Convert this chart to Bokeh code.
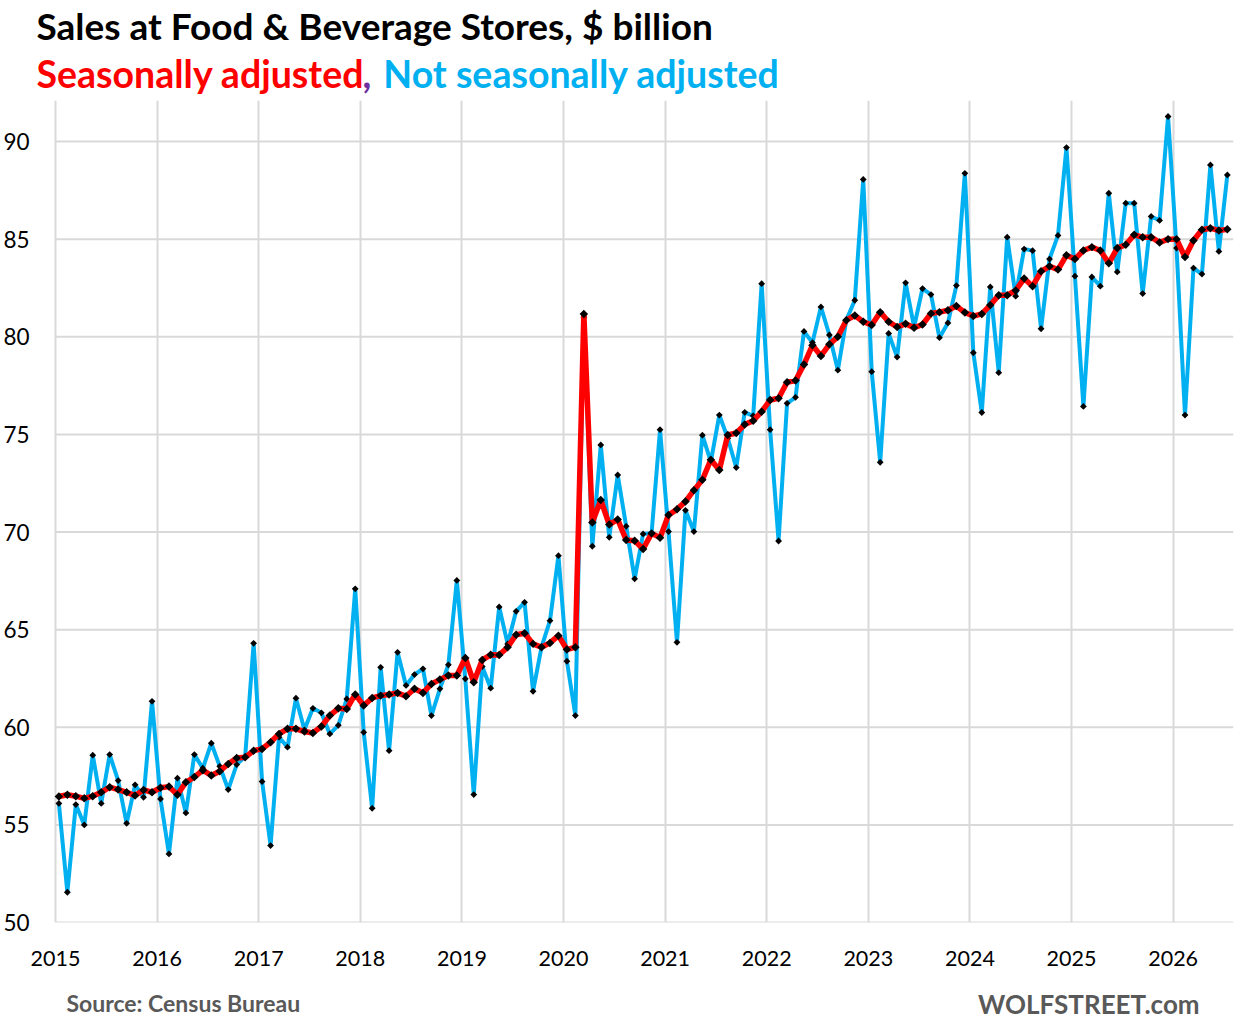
import numpy as np
from bokeh.plotting import figure
from bokeh.models import FixedTicker, Range1d
from bokeh.layouts import column
from bokeh.core.properties import value
from bokeh.embed import file_html
from bokeh.resources import INLINE

# Monthly data, Jan 2015 .. Jul 2026 ($ billion)
seasonally_adjusted = [
    56.45, 56.54, 56.47, 56.36, 56.47, 56.67, 56.93, 56.81, 56.67, 56.50, 56.79, 56.67,
    56.90, 56.96, 56.54, 57.18, 57.45, 57.80, 57.53, 57.75, 58.12, 58.43, 58.46, 58.80,
    58.89, 59.23, 59.66, 59.92, 59.92, 59.78, 59.71, 60.04, 60.60, 60.97, 60.94, 61.68,
    61.11, 61.50, 61.62, 61.68, 61.76, 61.59, 61.97, 61.76, 62.22, 62.44, 62.65, 62.65,
    63.55, 62.30, 63.45, 63.71, 63.70, 64.10, 64.74, 64.81, 64.27, 64.10, 64.32, 64.69,
    63.98, 64.10, 81.16, 70.49, 71.64, 70.38, 70.64, 69.59, 69.55, 69.13, 69.93, 69.71,
    70.87, 71.16, 71.56, 72.14, 72.67, 73.70, 73.17, 74.97, 75.07, 75.50, 75.70, 76.16,
    76.76, 76.85, 77.67, 77.76, 78.58, 79.56, 79.02, 79.61, 80.00, 80.85, 81.09, 80.77,
    80.60, 81.26, 80.77, 80.50, 80.66, 80.46, 80.63, 81.19, 81.26, 81.36, 81.57, 81.24,
    81.06, 81.17, 81.62, 82.13, 82.13, 82.37, 82.98, 82.59, 83.35, 83.61, 83.44, 84.17,
    83.98, 84.42, 84.59, 84.42, 83.76, 84.54, 84.71, 85.22, 85.10, 85.10, 84.83, 85.00,
    85.00, 84.08, 84.93, 85.48, 85.56, 85.44, 85.50,
]
not_seasonally_adjusted = [
    56.10, 51.55, 56.04, 55.00, 58.57, 56.10, 58.60, 57.27, 55.08, 57.05, 56.41, 61.33,
    56.33, 53.51, 57.39, 55.61, 58.60, 57.90, 59.18, 58.00, 56.81, 58.09, 58.50, 64.30,
    57.22, 53.94, 59.49, 58.98, 61.49, 59.87, 60.97, 60.74, 59.66, 60.10, 61.45, 67.09,
    59.74, 55.85, 63.07, 58.80, 63.84, 62.14, 62.70, 62.99, 60.60, 61.97, 63.20, 67.52,
    62.48, 56.55, 63.11, 62.00, 66.16, 64.27, 65.94, 66.40, 61.84, 64.10, 65.46, 68.79,
    63.38, 60.60, 81.00, 69.27, 74.46, 69.73, 72.92, 70.29, 67.60, 69.90, 69.93, 75.24,
    70.02, 64.35, 71.11, 70.02, 74.96, 73.60, 75.99, 74.80, 73.30, 76.13, 75.95, 82.72,
    75.24, 69.54, 76.59, 76.90, 80.27, 79.70, 81.53, 80.09, 78.29, 80.85, 81.87, 88.06,
    78.21, 73.57, 80.17, 78.96, 82.76, 80.50, 82.47, 82.16, 79.95, 80.71, 82.62, 88.37,
    79.18, 76.12, 82.55, 78.16, 85.10, 82.08, 84.49, 84.41, 80.41, 83.98, 85.19, 89.69,
    83.10, 76.43, 83.06, 82.59, 87.35, 83.32, 86.84, 86.84, 82.21, 86.16, 85.96, 91.28,
    84.54, 75.99, 83.52, 83.21, 88.80, 84.37, 88.29,
]
start_year = 2015
year_ticks = list(range(2015, 2027))
y_ticks = [50, 55, 60, 65, 70, 75, 80, 85, 90]

title_text = "Sales at Food & Beverage Stores, $ billion"
subtitle_parts = ["Seasonally adjusted", ",", "Not seasonally adjusted"]
subtitle_colors = ["#FF0000", "#7030A0", "#00B0F0"]
source_text = "Source: Census Bureau"
brand_text = "WOLFSTREET.com"

n = len(seasonally_adjusted)
months = np.arange(n)
x = start_year + (months + 0.4) / 12.0

FONT = "Lato"
W = 1230
FRAME_L = 32
FRAME_W = 1197
X_START, X_END = 2014.813, 2026.594
GRID = "#d9d9d9"


def blank(height):
    # frames in a column are aligned with the main chart's frame, so map
    # data units 1:1 onto the figure's pixel columns
    f = figure(width=W, height=height, output_backend="svg", toolbar_location=None,
               x_range=Range1d(FRAME_L, FRAME_L + FRAME_W), y_range=Range1d(height, 0),
               x_axis_location=None, y_axis_location=None,
               min_border=0, min_border_left=FRAME_L, min_border_right=1,
               min_border_top=0, min_border_bottom=0)
    f.grid.visible = False
    f.outline_line_color = None
    return f


# ---- header ----
HEADER_H = 100
head = blank(HEADER_H)
head.text(x=[32], y=[25], text=[title_text], text_font=value(FONT), text_font_style="bold",
          text_font_size="37px", text_color="black", text_baseline="middle")
sub_x = [32, 359, 380]
for t, c, sx in zip(subtitle_parts, subtitle_colors, sub_x):
    head.text(x=[sx], y=[73], text=[t], text_font=value(FONT), text_font_style="bold",
              text_font_size="37.5px", text_color=c, text_baseline="middle")

# ---- main chart ----
p = figure(frame_width=FRAME_W, frame_height=822, output_backend="svg", toolbar_location=None,
           x_range=Range1d(X_START, X_END), y_range=Range1d(50, 92.1),
           min_border_left=FRAME_L, min_border_right=1, min_border_top=0, min_border_bottom=60)
p.outline_line_color = None

for ax in (p.xaxis[0], p.yaxis[0]):
    ax.axis_line_color = None
    ax.major_tick_line_color = None
    ax.minor_tick_line_color = None
    ax.major_tick_out = 0
    ax.major_tick_in = 0
    ax.minor_tick_out = 0
    ax.minor_tick_in = 0
    ax.major_label_text_font = FONT
    ax.major_label_text_color = "black"

p.xaxis[0].major_label_text_font_size = "21.5px"
p.yaxis[0].major_label_text_font_size = "22.5px"
p.xaxis[0].ticker = FixedTicker(ticks=year_ticks)
p.xaxis[0].major_label_standoff = 28
p.yaxis[0].ticker = FixedTicker(ticks=y_ticks)
p.yaxis[0].major_label_standoff = 7

# vertical year gridlines
p.xgrid[0].ticker = FixedTicker(ticks=year_ticks)
p.xgrid[0].grid_line_color = GRID
p.xgrid[0].grid_line_width = 2
# horizontal gridlines start at the plot area's left edge (first year line)
p.ygrid[0].visible = False
p.segment(x0=[year_ticks[0]] * len(y_ticks), x1=[X_END] * len(y_ticks),
          y0=y_ticks, y1=y_ticks, line_color=GRID, line_width=2)

p.line(x, not_seasonally_adjusted, line_color="#00B0F0", line_width=4)
p.scatter(x, not_seasonally_adjusted, marker="square", angle=np.pi / 4, size=4.8,
          fill_color="black", line_color=None)
p.line(x, seasonally_adjusted, line_color="#FF0000", line_width=5.5)
p.scatter(x, seasonally_adjusted, marker="square", angle=np.pi / 4, size=6,
          fill_color="black", line_color=None)

# ---- footer ----
FOOT_H = 36
foot = blank(FOOT_H)
foot.text(x=[62], y=[20], text=[source_text], text_font=value(FONT), text_font_style="bold",
          text_font_size="23px", text_color="#595959", text_baseline="middle")
foot.text(x=[1199], y=[21], text=[brand_text], text_font=value(FONT), text_font_style="bold",
          text_font_size="26px", text_color="#595959", text_baseline="middle", text_align="right")

layout = column(head, p, foot, spacing=0)
open("out.html", "w").write(file_html(layout, INLINE))
